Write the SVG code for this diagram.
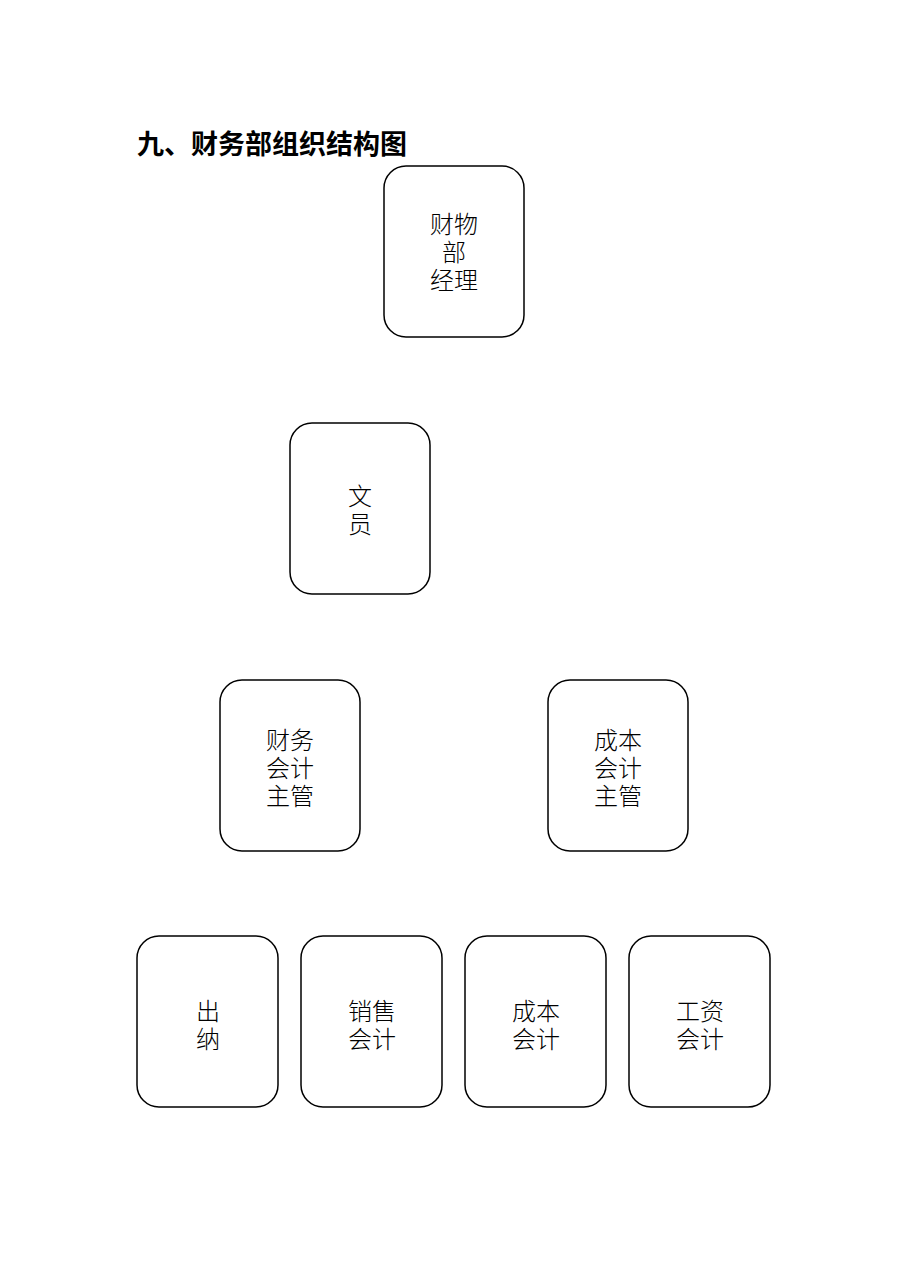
<svg xmlns="http://www.w3.org/2000/svg" width="909" height="1286" viewBox="0 0 909 1286">
<style>
.box{fill:#fff;stroke:#000;stroke-width:1.5}
.t{font-family:"Liberation Serif","Noto Sans CJK SC",serif;font-size:24px;font-weight:300;text-anchor:middle;fill:#000}
.title{font-family:"Liberation Sans","Noto Sans CJK SC",sans-serif;font-size:27px;font-weight:bold;fill:#000}
</style>
<rect width="909" height="1286" fill="#fff"/>
<text class="title" x="137" y="154">九、财务部组织结构图</text>
<g id="connectors"></g>
<g id="n-manager">
<rect class="box" x="384" y="166" width="140" height="171" rx="22"/>
<text class="t" x="454" y="233">财物</text>
<text class="t" x="454" y="261">部</text>
<text class="t" x="454" y="289">经理</text>
</g>
<g id="n-clerk">
<rect class="box" x="290" y="423" width="140" height="171" rx="22"/>
<text class="t" x="360" y="505">文</text>
<text class="t" x="360" y="533">员</text>
</g>
<g id="n-fin-supervisor">
<rect class="box" x="220" y="680" width="140" height="171" rx="22"/>
<text class="t" x="290" y="749">财务</text>
<text class="t" x="290" y="777">会计</text>
<text class="t" x="290" y="805">主管</text>
</g>
<g id="n-cost-supervisor">
<rect class="box" x="548" y="680" width="140" height="171" rx="22"/>
<text class="t" x="618" y="749">成本</text>
<text class="t" x="618" y="777">会计</text>
<text class="t" x="618" y="805">主管</text>
</g>
<g id="n-cashier">
<rect class="box" x="137" y="936" width="141" height="171" rx="22"/>
<text class="t" x="208" y="1020">出</text>
<text class="t" x="208" y="1048">纳</text>
</g>
<g id="n-sales">
<rect class="box" x="301" y="936" width="141" height="171" rx="22"/>
<text class="t" x="372" y="1020">销售</text>
<text class="t" x="372" y="1048">会计</text>
</g>
<g id="n-cost">
<rect class="box" x="465" y="936" width="141" height="171" rx="22"/>
<text class="t" x="536" y="1020">成本</text>
<text class="t" x="536" y="1048">会计</text>
</g>
<g id="n-salary">
<rect class="box" x="629" y="936" width="141" height="171" rx="22"/>
<text class="t" x="700" y="1020">工资</text>
<text class="t" x="700" y="1048">会计</text>
</g>
</svg>
